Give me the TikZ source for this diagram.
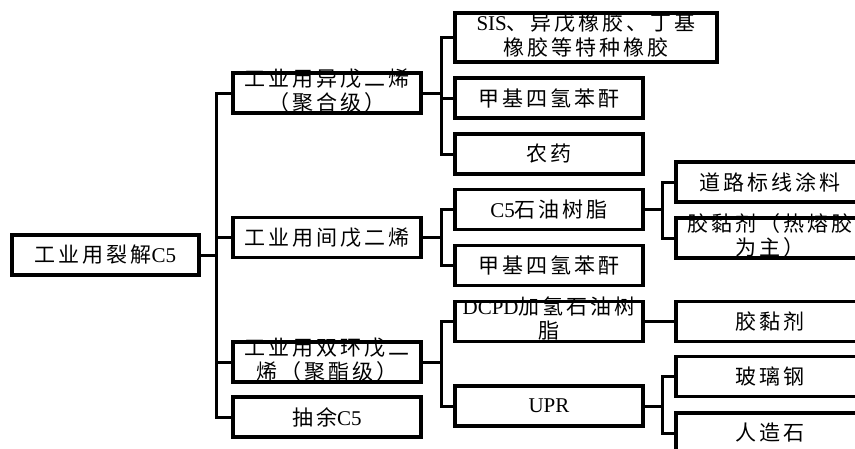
\documentclass[tikz,border=0pt]{standalone}
\usepackage{fontspec}
\setmainfont{Liberation Serif}
\newfontfamily\cjk[LetterSpace=14]{Noto Sans CJK SC}
\newcommand\zh[1]{{\cjk #1}}
\newcommand\twoline[2]{\smash{\raisebox{-5pt}{\begin{tabular}{@{}c@{}}#1\\#2\end{tabular}}}}

\begin{document}
\begin{tikzpicture}[x=1pt,y=-1pt]
	\tikzset{box/.style={draw,fill=white,line width=3.5pt,minimum width=188pt,minimum height=40pt,inner sep=0pt,font=\fontsize{21}{21.5}\selectfont}}
	\tikzset{link/.style={line width=3pt,line join=miter}}
	\clip (0,0) rectangle (855,448);

	\node[box,minimum width=187pt] (root) at (105.5,255) {\zh{工业用裂解}C5};

	\node[box] (ip) at (327,93) {\twoline{\zh{工业用异戊二烯}}{\zh{（聚合级）}}};
	\node[box] (pip) at (327,237.5) {\zh{工业用间戊二烯}};
	\node[box] (dcpd) at (327,362) {\twoline{\zh{工业用双环戊二}}{\zh{烯（聚酯级）}}};
	\node[box] (raf) at (327,417) {\zh{抽余}C5};

	\node[box,minimum width=262pt,minimum height=49pt] (rub) at (586,37.5) {\twoline{SIS\zh{、异戊橡胶、丁基}}{\zh{橡胶等特种橡胶}}};
	\node[box] (anh1) at (549,98) {\zh{甲基四氢苯酐}};
	\node[box] (pest) at (549,154) {\zh{农药}};
	\node[box] (res) at (549,209.5) {C5\zh{石油树脂}};
	\node[box] (anh2) at (549,265.5) {\zh{甲基四氢苯酐}};
	\node[box] (hres) at (549,321.5) {\twoline{DCPD\zh{加氢石油树}}{\zh{脂}}};
	\node[box] (upr) at (549,406) {UPR};

	\node[box] (road) at (770,182) {\zh{道路标线涂料}};
	\node[box] (hot) at (770,238) {\twoline{\zh{胶黏剂（热熔胶}}{\zh{为主）}}};
	\node[box] (glue) at (770,321.5) {\zh{胶黏剂}};
	\node[box] (frp) at (770,376.5) {\zh{玻璃钢}};
	\node[box] (stone) at (770,433) {\zh{人造石}};

	\coordinate (t0) at (216,0);
	\coordinate (t1) at (441,0);
	\coordinate (t2) at (662,0);

	\foreach \c in {ip,pip,dcpd,raf}
		\draw[link] (root.east) -- (t0 |- root.east) |- (\c.west);
	\foreach \c in {rub,anh1,pest}
		\draw[link] (ip.east) -- (t1 |- ip.east) |- (\c.west);
	\foreach \c in {res,anh2}
		\draw[link] (pip.east) -- (t1 |- pip.east) |- (\c.west);
	\foreach \c in {hres,upr}
		\draw[link] (dcpd.east) -- (t1 |- dcpd.east) |- (\c.west);
	\foreach \c in {road,hot}
		\draw[link] (res.east) -- (t2 |- res.east) |- (\c.west);
	\draw[link] (hres.east) -- (glue.west);
	\foreach \c in {frp,stone}
		\draw[link] (upr.east) -- (t2 |- upr.east) |- (\c.west);
\end{tikzpicture}
\end{document}
